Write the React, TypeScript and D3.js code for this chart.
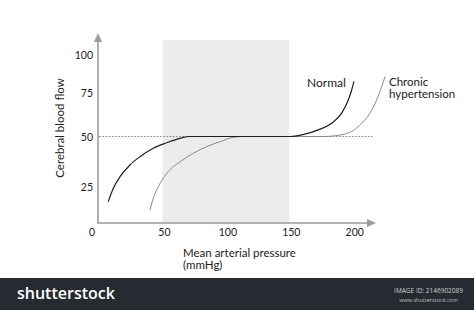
import React from "react";
import * as d3 from "d3";

const xTicks = [50, 100, 150, 200];
const yTicks = [25, 50, 75, 100];
// y axis in the picture is not evenly spaced: piecewise scale anchors
const yAnchorValues = [0, 25, 50, 75, 100];
const autoregRange = [50, 150];
const baseline = 50;

const normalX = [7.3, 11.3, 16.6, 24.4, 32.3, 42.8, 53.4, 63.9, 71.7, 111.2, 150.6, 159.8, 172.9, 183.4, 191.3, 196.5, 199.2, 201.0];
const normalY = [14.8, 24.1, 30.1, 35.9, 40.0, 44.2, 46.9, 49.1, 50, 50, 50, 50.9, 53.8, 57.6, 63.4, 71.0, 77.0, 82.6];

const chronicX = [40.2, 42.8, 46.7, 53.4, 63.9, 74.3, 84.9, 95.4, 105.9, 115.1, 158.5, 178, 188, 199.2, 207.1, 213.6, 218.9, 222.9, 225.5];
const chronicY = [9.0, 17.2, 25.1, 31.8, 37.5, 41.7, 45.0, 47.4, 49.6, 50, 50, 50, 50.6, 52.9, 57.6, 63.4, 71.0, 79.3, 85.9];

const seriesLabels = ["Normal", "Chronic", "hypertension"];

export default function App() {
  const W = 474, H = 310;
  const x = d3.scaleLinear().domain([0, 216]).range([99, 373]);
  const y = d3.scaleLinear().domain(yAnchorValues).range([223, 187, 136.5, 93, 55]);
  const line = (xs: number[], ys: number[]) =>
    d3.line<number>().x((i) => x(xs[i])).y((i) => y(ys[i])).curve(d3.curveMonotoneX)(xs.map((_, i) => i)) || "";

  const font = "Lato, 'Open Sans', sans-serif";
  const axisColor = "#9b9b9b";
  const textColor = "#222";
  const x0 = x(0), yAxisBottom = y(0), yTop = 33;

  return (
    <svg width={W} height={H} style={{ position: "absolute", left: 0, top: 0, background: "#fff" }} fontFamily={font}>
      <rect x={0} y={0} width={W} height={H} fill="#fff" />
      {/* autoregulation band */}
      <rect x={x(autoregRange[0])} y={40} width={x(autoregRange[1]) - x(autoregRange[0])} height={yAxisBottom - 40} fill="#ececec" />
      {/* dotted baseline */}
      <line x1={x0} x2={373} y1={y(baseline)} y2={y(baseline)} stroke="#666" strokeWidth={0.8} strokeDasharray="1.6,1.6" />
      {/* axes */}
      <line x1={x0 - 1} x2={x0 - 1} y1={yAxisBottom} y2={yTop + 6} stroke={axisColor} strokeWidth={1.6} />
      <path d={`M${x0 - 1},${yTop} L${x0 - 5},${yTop + 9} L${x0 + 3},${yTop + 9} Z`} fill={axisColor} />
      <line x1={x0 - 1.8} x2={368} y1={yAxisBottom} y2={yAxisBottom} stroke={axisColor} strokeWidth={1.6} />
      <path d={`M${376},${yAxisBottom} L${367},${yAxisBottom - 4} L${367},${yAxisBottom + 4} Z`} fill={axisColor} />
      {/* curves */}
      <path d={line(chronicX, chronicY)} fill="none" stroke="#8a8a8a" strokeWidth={1} />
      <path d={line(normalX, normalY)} fill="none" stroke="#1e1e1e" strokeWidth={1.2} />
      {/* tick labels */}
      <text x={x0 - 7} y={236} fontSize={10.5} fill={textColor} textAnchor="middle">0</text>
      {xTicks.map((t) => (
        <text key={t} x={x(t) + 2} y={236} fontSize={10.5} fill={textColor} textAnchor="middle">{t}</text>
      ))}
      {yTicks.map((t) => (
        <text key={t} x={93} y={y(t) + 4} fontSize={10.5} fill={textColor} textAnchor="end">{t}</text>
      ))}
      {/* axis titles */}
      <text transform={`translate(64,128) rotate(-90)`} fontSize={11.5} fill={textColor} textAnchor="middle">Cerebral blood flow</text>
      <text x={183} y={257} fontSize={11.5} fill={textColor}>Mean arterial pressure</text>
      <text x={183} y={269} fontSize={11.5} fill={textColor}>(mmHg)</text>
      {/* series labels */}
      <text x={307} y={87} fontSize={12} fill={textColor}>{seriesLabels[0]}</text>
      <text x={389} y={86} fontSize={11.5} fill={textColor}>{seriesLabels[1]}</text>
      <text x={389} y={97.5} fontSize={11.5} fill={textColor}>{seriesLabels[2]}</text>
      {/* footer bar */}
      <rect x={0} y={278} width={W} height={32} fill="#262a31" />
      <text x={17} y={299} fontSize={16} fontWeight={600} fill="#fff" fontFamily="'Open Sans', sans-serif">shutterstock</text>
      <text x={463} y={293} fontSize={6.5} fill="#cfcfcf" textAnchor="end" fontFamily="'Open Sans', sans-serif">IMAGE ID: 2146902089</text>
      <text x={458} y={302} fontSize={5.5} fill="#bfbfbf" textAnchor="end" fontFamily="'Open Sans', sans-serif">www.shutterstock.com</text>
    </svg>
  );
}
